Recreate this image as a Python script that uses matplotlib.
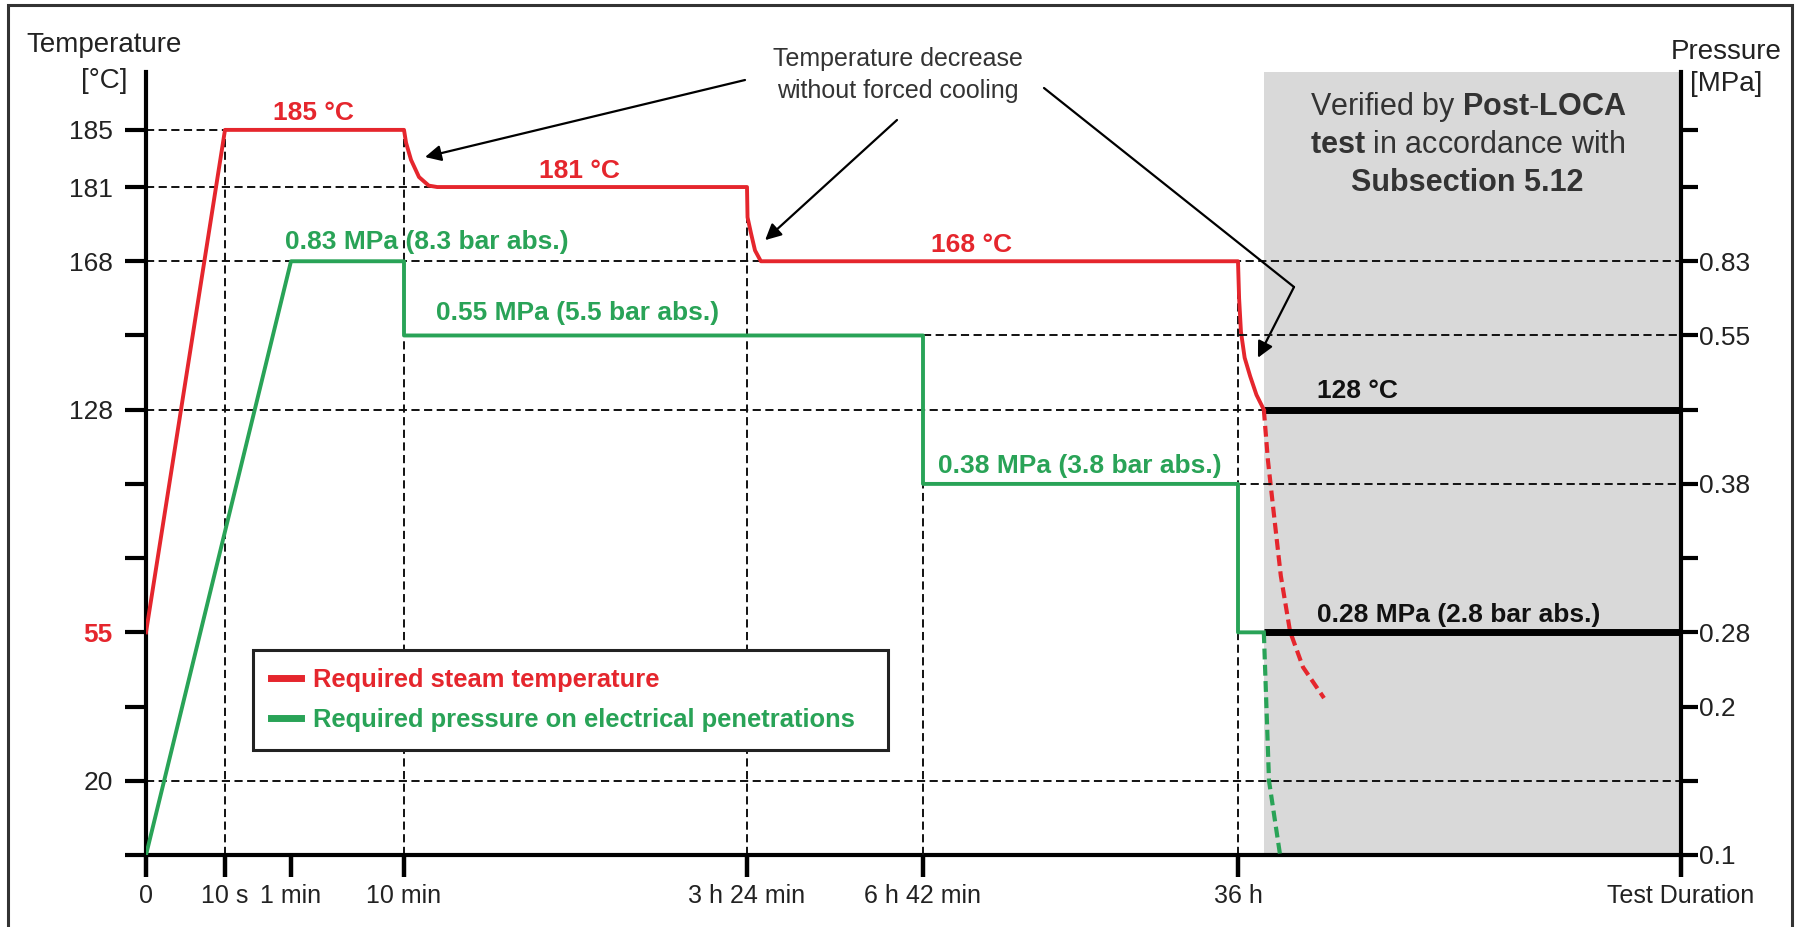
import numpy as np
import matplotlib
matplotlib.use('Agg')
import matplotlib.pyplot as plt
from matplotlib.lines import Line2D
from matplotlib.patches import Rectangle

plt.rcParams['font.family'] = ['Liberation Sans', 'DejaVu Sans']
plt.rcParams['mathtext.fontset'] = 'custom'
plt.rcParams['mathtext.rm'] = 'Liberation Sans'
plt.rcParams['mathtext.bf'] = 'Liberation Sans:bold'

RED = '#e5262d'
GREEN = '#29a357'
DARK = '#333333'

# time axis in hours (schematic, not to scale)
time_ticks = [0, 10/3600, 1/60, 10/60, 3.4, 6.7, 36, 48]
time_labels = ['0', '10 s', '1 min', '10 min', '3 h 24 min', '6 h 42 min', '36 h', 'Test Duration']
time_pos = [146, 225, 291, 404, 747, 923, 1238, 1681]

# schematic vertical scales (one grid step per level)
temp_knots = [0, 20, 55, 128, 168, 181, 185, 190]
temp_lvl = [0, 1, 3, 6, 8, 9, 9.77, 10.73]
press_knots = [0.1, 0.2, 0.28, 0.38, 0.55, 0.83, 1.6]
press_lvl = [0, 2, 3, 5, 7, 8, 10.75]
top_lvl = 10.55

temp_labels = [20, 55, 128, 168, 181, 185]
press_labels = [0.1, 0.2, 0.28, 0.38, 0.55, 0.83]

# required steam temperature
temp_h = [0, 10/3600, 10/60, 0.186, 0.233, 0.308, 0.40, 0.48,
          3.4, 3.41, 3.475, 3.55, 3.66,
          36, 36.03, 36.08, 36.18, 36.33, 36.5, 36.7]
temp_c = [55, 185, 185, 184.1, 182.9, 181.7, 181.1, 181,
          181, 175.7, 172.9, 169.9, 168,
          168, 158, 149, 142, 137, 132, 128]
temp_tail_h = [36.7, 36.81, 36.97, 37.16, 37.41, 37.76, 38.33]
temp_tail_c = [128, 111.5, 94, 73.5, 55.3, 46.8, 39.5]

# required pressure on electrical penetrations
press_h = [0, 1/60, 10/60, 10/60, 6.7, 6.7, 36, 36, 36.7]
press_mpa = [0.1, 0.83, 0.83, 0.55, 0.55, 0.38, 0.38, 0.28, 0.28]
press_tail_h = [36.7, 36.77, 36.84, 37.14]
press_tail_mpa = [0.28, 0.2, 0.15, 0.1]

post_start = 36.7
end_h = 48


def fwd_x(h):
    return np.interp(h, time_ticks, time_pos)


def inv_x(p):
    return np.interp(p, time_pos, time_ticks)


def fwd_t(t):
    return np.interp(t, temp_knots, temp_lvl)


def inv_t(l):
    return np.interp(l, temp_lvl, temp_knots)


def fwd_p(p):
    return np.interp(p, press_knots, press_lvl)


def inv_p(l):
    return np.interp(l, press_lvl, press_knots)


def ref(x, y):
    # pixel position of the reference layout -> axes fraction
    return ((x - 146) / 1535, (855 - y) / 783)


fig = plt.figure(figsize=(18, 9.27), dpi=100)
ax = fig.add_axes([146/1800, 1 - 855/927, 1535/1800, 783/927])
ax2 = ax.twinx()

ax.set_xscale('function', functions=(fwd_x, inv_x))
ax.set_yscale('function', functions=(fwd_t, inv_t))
ax2.set_yscale('function', functions=(fwd_p, inv_p))
ax.set_xlim(0, end_h)
ax.set_ylim(0, float(inv_t(top_lvl)))
ax2.set_ylim(0.1, float(inv_p(top_lvl)))

# grey post-LOCA region
ax.axvspan(post_start, end_h, color='#d9d9d9', lw=0, zorder=0)

dash = dict(color='#111111', lw=1.4, ls=(0, (4.2, 2.3)), zorder=1)
ax.hlines(185, 0, 10/3600, **dash)
ax.hlines(181, 0, 0.45, **dash)
ax.hlines(168, 0, end_h, **dash)
ax.hlines(128, 0, post_start, **dash)
ax.hlines(20, 0, end_h, **dash)
ax2.hlines(0.55, 6.7, end_h, **dash)
ax2.hlines(0.38, 36, end_h, **dash)
ax.vlines([10/3600, 10/60], 0, 185, **dash)
ax.vlines(3.4, 0, 181, **dash)
ax.vlines(36, 0, 168, **dash)
ax2.vlines(6.7, 0.1, 0.55, **dash)

ax.hlines(128, post_start, end_h, color='black', lw=5, zorder=3)
ax2.hlines(0.28, post_start, end_h, color='black', lw=5, zorder=3)

ax.plot(temp_h, temp_c, color=RED, lw=2.8, zorder=4)
ax.plot(temp_tail_h, temp_tail_c, color=RED, lw=3, ls=(0, (2.6, 1.3)), zorder=4)
ax2.plot(press_h, press_mpa, color=GREEN, lw=2.8, zorder=4)
ax2.plot(press_tail_h, press_tail_mpa, color=GREEN, lw=3, ls=(0, (2.6, 1.3)), zorder=4)

# axes styling
for s in ['top', 'right']:
    ax.spines[s].set_visible(False)
for s in ['top', 'left', 'bottom']:
    ax2.spines[s].set_visible(False)
ax.spines['left'].set_linewidth(3)
ax.spines['bottom'].set_linewidth(3)
ax2.spines['right'].set_linewidth(3)

ax.set_xticks(time_ticks, time_labels)
ax.xaxis.set_minor_locator(plt.NullLocator())
ax.set_yticks(temp_labels, [str(v) for v in temp_labels])
ax.set_yticks(inv_t([0, 2, 4, 5, 7]), minor=True)
ax2.set_yticks(press_labels, [f'{v:g}' for v in press_labels])
ax2.set_yticks(inv_p([1, 4, 6, 9, 9.77]), minor=True)

ax.tick_params(axis='x', which='both', direction='out', length=16, width=3.2,
               labelsize=18, pad=5, labelcolor='#222222')
ax.tick_params(axis='y', which='both', direction='out', length=15, width=3,
               labelsize=19, pad=9, labelcolor='#222222')
ax2.tick_params(axis='y', which='both', direction='out', length=12, width=3,
                labelsize=19, pad=1, labelcolor='#222222')
for lbl in ax.get_yticklabels():
    if lbl.get_text() == '55':
        lbl.set_color(RED)
        lbl.set_fontweight('bold')

# axis titles
fig.text(104/1800, 1 - 45/927, 'Temperature', ha='center', va='center', fontsize=20, color='#222222')
fig.text(104/1800, 1 - 81/927, '[°C]', ha='center', va='center', fontsize=20, color='#222222')
fig.text(1726/1800, 1 - 52/927, 'Pressure', ha='center', va='center', fontsize=20, color='#222222')
fig.text(1726/1800, 1 - 84/927, '[MPa]', ha='center', va='center', fontsize=20, color='#222222')

# value labels
bold = dict(fontsize=19, fontweight='bold', va='center', transform=ax.transAxes)
ax.text(*ref(313, 113), '185 °C', color=RED, ha='center', **bold)
ax.text(*ref(579, 171), '181 °C', color=RED, ha='center', **bold)
ax.text(*ref(972, 245), '168 °C', color=RED, ha='center', **bold)
ax.text(*ref(285, 242), '0.83 MPa (8.3 bar abs.)', color=GREEN, ha='left', **bold)
ax.text(*ref(436, 313), '0.55 MPa (5.5 bar abs.)', color=GREEN, ha='left', **bold)
ax.text(*ref(938, 466), '0.38 MPa (3.8 bar abs.)', color=GREEN, ha='left', **bold)
ax.text(*ref(1317, 391), '128 °C', color='#111111', ha='left', **bold)
ax.text(*ref(1317, 615), '0.28 MPa (2.8 bar abs.)', color='#111111', ha='left', **bold)

# post-LOCA note
note = dict(fontsize=22, color=DARK, ha='center', va='center', transform=ax.transAxes)
ax.text(*ref(1468, 107), r'Verified by $\mathbf{Post}$-$\mathbf{LOCA}$', **note)
ax.text(*ref(1468, 145), r'$\mathbf{test}$ in accordance with', **note)
ax.text(*ref(1467, 183), 'Subsection 5.12', fontweight='bold', **note)

# arrows: temperature decrease without forced cooling
ax.text(*ref(898, 59), 'Temperature decrease', fontsize=18, color=DARK,
        ha='center', va='center', transform=ax.transAxes, clip_on=False)
ax.text(*ref(898, 91), 'without forced cooling', fontsize=18, color=DARK,
        ha='center', va='center', transform=ax.transAxes, clip_on=False)
arrow = dict(arrowstyle='-|>', color='black', lw=1.6, mutation_scale=24,
             shrinkA=0, shrinkB=0)
ax.annotate('', xy=(0.365, 183.1), xycoords='data', xytext=ref(745, 80),
            textcoords='axes fraction', arrowprops=arrow)
ax.annotate('', xy=(3.74, 171.7), xycoords='data', xytext=ref(897, 120),
            textcoords='axes fraction', arrowprops=arrow)
kx, ky = ref(1294, 287)
sx, sy = ref(1044, 88)
ax.plot([sx, kx], [sy, ky], color='black', lw=1.6, transform=ax.transAxes,
        clip_on=False, solid_capstyle='round')
ax.annotate('', xy=(36.54, 142), xycoords='data', xytext=(kx, ky),
            textcoords='axes fraction', arrowprops=arrow)

# legend
handles = [Line2D([], [], color=RED, lw=5), Line2D([], [], color=GREEN, lw=5)]
leg = ax.legend(handles, ['Required steam temperature',
                          'Required pressure on electrical penetrations'],
                loc='upper left', bbox_to_anchor=(0.0697, 0.1379, 0.4137, 0.1239),
                mode='expand', borderaxespad=0,
                prop={'weight': 'bold', 'size': 18.4}, frameon=True,
                fancybox=False, framealpha=1, edgecolor='#222222', handlelength=1.18,
                handletextpad=0.47, borderpad=0.7, labelspacing=0.62)
leg.get_frame().set_linewidth(2.2)
leg.set_zorder(10)
for txt, c in zip(leg.get_texts(), [RED, GREEN]):
    txt.set_color(c)
leg.remove()
ax2.add_artist(leg)

# outer frame
fig.add_artist(Rectangle((8/1800, -0.01), 1784/1800, 1.01 - 5/927,
                         transform=fig.transFigure, fill=False, lw=2.2, ec='#333333'))

fig.savefig('out.png', dpi=100)
